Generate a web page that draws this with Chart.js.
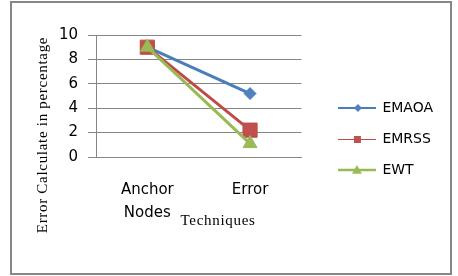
<!DOCTYPE html>
<html>
<head>
<meta charset="utf-8">
<script src="https://cdn.jsdelivr.net/npm/chart.js@4.4.0/dist/chart.umd.min.js"></script>
<style>
  html, body { margin: 0; padding: 0; background: #fff; }
  #wrap { position: relative; width: 458px; height: 276px; }
  #frame { position: absolute; left: 10px; top: 1px; width: 438px; height: 270px; border: 2px solid #878787; }
  #chart { position: absolute; left: 0; top: 0; }
</style>
</head>
<body>
<div id="wrap">
  <div id="frame"></div>
  <canvas id="chart" width="458" height="276"></canvas>
</div>
<script>
// data
const categories = [['Anchor', 'Nodes'], 'Error']
const seriesNames = ['EMAOA', 'EMRSS', 'EWT']
const emaoa = [9, 5.2]
const emrss = [9, 2.2]
const ewt = [9, 1.1]
const yMin = 0, yMax = 10, yStep = 2
const xTitle = 'Techniques'
const yTitle = 'Error Calculate in percentage'

const lineColors = ['#4A7EBB', '#BE4B48', '#98B954']
const markColors = ['#4F81BD', '#C0504D', '#9BBB59']

// little line + marker picture for each legend entry
function swatch(i, lw, shape, r, cy) {
  const c = document.createElement('canvas')
  c.width = 38
  c.height = 14
  const g = c.getContext('2d')
  g.strokeStyle = lineColors[i]
  g.lineWidth = lw
  g.beginPath()
  g.moveTo(0, cy)
  g.lineTo(38, cy)
  g.stroke()
  g.fillStyle = markColors[i]
  g.beginPath()
  if (shape == 'diamond') {
    g.moveTo(20, cy - r); g.lineTo(20 + r, cy); g.lineTo(20, cy + r); g.lineTo(20 - r, cy)
  } else if (shape == 'square') {
    g.rect(19.5 - r, cy - r, 2 * r, 2 * r)
  } else {
    g.moveTo(19, cy - r); g.lineTo(19 + r, cy + r * 0.75); g.lineTo(19 - r, cy + r * 0.75)
  }
  g.closePath()
  g.fill()
  return c
}
const swatches = [
  swatch(0, 2, 'diamond', 4, 7),
  swatch(1, 1, 'square', 3.5, 7.5),
  swatch(2, 2.5, 'triangle', 5, 7)
]

// axis titles sit where the original put them, not centred on the axes
const axisTitles = {
  id: 'axisTitles',
  afterDraw(chart) {
    const ctx = chart.ctx
    const area = chart.chartArea
    ctx.save()
    ctx.fillStyle = '#000'
    ctx.font = '15px "Liberation Serif", "Times New Roman", serif'
    ctx.letterSpacing = '0.7px'
    ctx.textAlign = 'center'
    ctx.textBaseline = 'alphabetic'
    ctx.fillText(xTitle, area.left + 122, area.bottom + 68)
    ctx.translate(area.left - 49, area.top + 100)
    ctx.rotate(-Math.PI / 2)
    ctx.fillText(yTitle, 0, 0)
    ctx.restore()
  }
}

const tickFont = { family: '"DejaVu Sans", sans-serif', size: 15 }
const gridColor = '#868686'

new Chart(document.getElementById('chart'), {
  type: 'line',
  data: {
    labels: categories,
    datasets: [
      { label: seriesNames[0], data: emaoa, borderColor: lineColors[0], backgroundColor: markColors[0],
        borderWidth: 3, pointStyle: 'rectRot', pointRadius: 6, pointBorderWidth: 1, order: 2 },
      { label: seriesNames[1], data: emrss, borderColor: lineColors[1], backgroundColor: markColors[1],
        borderWidth: 3, pointStyle: 'rect', pointRadius: 10, pointBorderWidth: 1, order: 1 },
      { label: seriesNames[2], data: ewt, borderColor: lineColors[2], backgroundColor: markColors[2],
        borderWidth: 3, pointStyle: 'triangle', pointRadius: 8, pointBorderWidth: 1, order: 0 }
    ]
  },
  options: {
    responsive: false,
    animation: false,
    layout: { padding: { left: 50, right: 15, top: 35, bottom: 33 } },
    plugins: {
      tooltip: { enabled: false },
      legend: {
        position: 'right',
        maxWidth: 160,
        labels: {
          usePointStyle: true,
          pointStyleWidth: 37,
          padding: 17,
          color: '#000',
          font: { family: '"DejaVu Sans", sans-serif', size: 14 },
          generateLabels: chart => chart.data.datasets.map((ds, i) => ({
            text: ds.label,
            pointStyle: swatches[i],
            fillStyle: ds.backgroundColor,
            strokeStyle: ds.borderColor,
            lineWidth: 0,
            hidden: false,
            datasetIndex: i,
            fontColor: '#000'
          }))
        }
      }
    },
    scales: {
      x: {
        offset: true,
        grid: { display: false, drawTicks: false, tickLength: 0 },
        border: { display: true, color: gridColor, width: 1 },
        ticks: { color: '#000', font: { ...tickFont, lineHeight: 1.5 }, padding: 22, maxRotation: 0, autoSkip: false },
        afterFit(s) { s.height = 86 }
      },
      y: {
        min: yMin,
        max: yMax,
        ticks: { stepSize: yStep, color: '#000', font: tickFont, padding: 10 },
        grid: { color: gridColor, tickLength: 8, drawTicks: true },
        border: { display: true, color: gridColor, width: 1 },
        afterFit(s) { s.width = 46 }
      },
      gap: {
        position: 'right',
        display: true,
        grid: { display: false },
        border: { display: false },
        ticks: { display: false },
        afterFit(s) { s.width = 20 }
      }
    }
  },
  plugins: [axisTitles]
})
</script>
</body>
</html>
